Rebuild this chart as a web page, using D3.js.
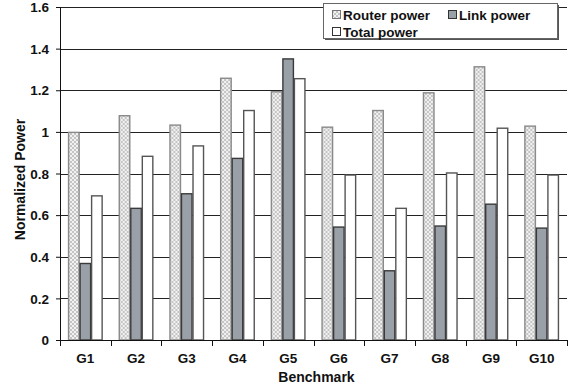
<!DOCTYPE html>
<meta charset="utf-8">
<script src="https://d3js.org/d3.v7.min.js"></script>
<style>
  body { margin: 0; background: #fff; }
  svg text { font-family: "Liberation Sans", Arial, sans-serif; font-weight: bold; fill: #111; }
</style>
<body>
<div id="chart"></div>
<script>
  // data
  const benchmarks = ["G1", "G2", "G3", "G4", "G5", "G6", "G7", "G8", "G9", "G10"];
  const routerPower = [1.0, 1.08, 1.035, 1.26, 1.195, 1.025, 1.105, 1.19, 1.315, 1.03];
  const linkPower = [0.37, 0.635, 0.705, 0.875, 1.353, 0.545, 0.335, 0.55, 0.655, 0.54];
  const totalPower = [0.695, 0.885, 0.935, 1.105, 1.258, 0.795, 0.635, 0.805, 1.02, 0.795];
  const seriesNames = ["Router power", "Link power", "Total power"];
  const yTicks = [0, 0.2, 0.4, 0.6, 0.8, 1, 1.2, 1.4, 1.6];

  const margin = { top: 7, right: 4, bottom: 48, left: 60 },
    width = 571 - margin.left - margin.right,
    height = 388 - margin.top - margin.bottom;

  const svg = d3.select("#chart")
    .append("svg")
    .attr("width", 571)
    .attr("height", 388);

  // checkered fill for router bars
  const defs = svg.append("defs");
  const pat = defs.append("pattern")
    .attr("id", "checks")
    .attr("width", 4).attr("height", 4)
    .attr("patternUnits", "userSpaceOnUse");
  pat.append("rect").attr("width", 4).attr("height", 4).attr("fill", "#f2f2f2");
  pat.append("rect").attr("width", 2).attr("height", 2).attr("fill", "#c4c4c4");
  pat.append("rect").attr("x", 2).attr("y", 2).attr("width", 2).attr("height", 2).attr("fill", "#c4c4c4");

  const fills = ["url(#checks)", "#9aa0a7", "#ffffff"];
  const strokes = ["#8a8a8a", "#3a3a3a", "#555555"];

  const g = svg.append("g")
    .attr("transform", `translate(${margin.left},${margin.top})`);

  const x = d3.scaleBand().domain(benchmarks).range([0, width]).paddingInner(0).paddingOuter(0);
  const xs = d3.scaleBand().domain(seriesNames).range([0, x.bandwidth()]).paddingInner(0).paddingOuter(0.7);
  const y = d3.scaleLinear().domain([0, 1.6]).range([height, 0]);

  // gridlines
  g.selectAll(".grid")
    .data(yTicks.filter(d => d > 0))
    .join("line")
    .attr("x1", 0).attr("x2", width)
    .attr("y1", d => Math.round(y(d)) + 0.5).attr("y2", d => Math.round(y(d)) + 0.5)
    .attr("stroke", "#222").attr("stroke-width", 1);

  // bars
  const rows = benchmarks.map((b, i) => ({
    name: b,
    values: [routerPower[i], linkPower[i], totalPower[i]]
  }));

  const grp = g.selectAll(".grp")
    .data(rows)
    .join("g")
    .attr("transform", d => `translate(${x(d.name)},0)`);

  grp.selectAll("rect")
    .data(d => d.values.map((v, k) => ({ key: seriesNames[k], k: k, v: v })))
    .join("rect")
    .attr("x", d => xs(d.key) + 0.5)
    .attr("width", xs.bandwidth() - 1)
    .attr("y", d => y(d.v) + 0.5)
    .attr("height", d => height - y(d.v) - 0.5)
    .attr("fill", d => fills[d.k])
    .attr("stroke", d => strokes[d.k])
    .attr("stroke-width", 1.4);

  // y axis
  const yAxis = g.append("g")
    .call(d3.axisLeft(y).tickValues(yTicks).tickFormat(d3.format("~g")).tickSize(4).tickPadding(7));
  yAxis.attr("font-family", null).attr("font-size", null);
  yAxis.select(".domain").attr("stroke", "#111").attr("d", `M0.5,0V${height}`);
  yAxis.selectAll(".tick line").attr("stroke", "#111");
  yAxis.selectAll("text").style("font-size", "13.5px").attr("dy", "0.35em");

  // x axis: ticks on band boundaries
  const xAxis = g.append("g").attr("transform", `translate(0,${height})`);
  xAxis.append("line").attr("x1", 0).attr("x2", width).attr("y1", 0.5).attr("y2", 0.5).attr("stroke", "#111");
  xAxis.selectAll(".bt")
    .data(benchmarks.map(b => x(b)).concat([width]))
    .join("line")
    .attr("x1", d => Math.round(d) + 0.5).attr("x2", d => Math.round(d) + 0.5)
    .attr("y1", 0).attr("y2", 6)
    .attr("stroke", "#111");
  xAxis.selectAll(".lbl")
    .data(benchmarks)
    .join("text")
    .attr("x", d => x(d) + x.bandwidth() / 2)
    .attr("y", 23)
    .attr("text-anchor", "middle")
    .style("font-size", "13.5px")
    .text(d => d);

  // axis titles
  svg.append("text")
    .attr("x", margin.left + width / 2 + 3)
    .attr("y", 382)
    .attr("text-anchor", "middle")
    .style("font-size", "14px")
    .text("Benchmark");
  svg.append("text")
    .attr("transform", `translate(25,${margin.top + height / 2 + 6}) rotate(-90)`)
    .attr("text-anchor", "middle")
    .style("font-size", "14px")
    .text("Normalized Power");

  // legend
  const lg = svg.append("g").attr("transform", "translate(323,3)");
  lg.append("rect").attr("x", 2).attr("y", 2).attr("width", 234).attr("height", 35).attr("fill", "#555");
  lg.append("rect").attr("x", 0.5).attr("y", 0.5).attr("width", 234).attr("height", 35)
    .attr("fill", "#fff").attr("stroke", "#666");
  const legendPos = [[9, 12], [125, 12], [9, 29]];
  seriesNames.forEach((s, k) => {
    const item = lg.append("g").attr("transform", `translate(${legendPos[k][0]},${legendPos[k][1]})`);
    item.append("rect").attr("x", 0.5).attr("y", -4.5).attr("width", 8).attr("height", 8)
      .attr("fill", fills[k]).attr("stroke", k === 0 ? "#777" : "#333");
    item.append("text").attr("x", 11).attr("y", 5).style("font-size", "13.5px").text(s);
  });
</script>
</body>
